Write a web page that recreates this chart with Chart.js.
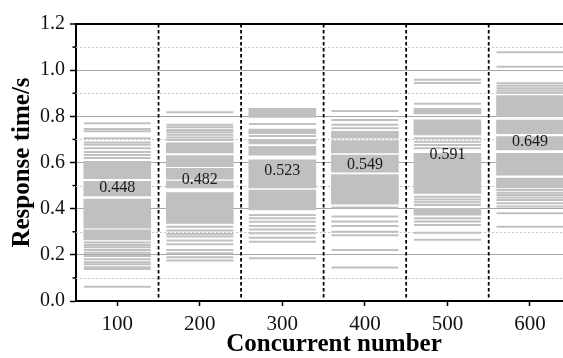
<!DOCTYPE html>
<html><head><meta charset="utf-8">
<script src="https://cdn.jsdelivr.net/npm/chart.js@4"></script>
<style>html,body{margin:0;padding:0;background:#fff;overflow:hidden}#wrap{width:563px;height:358px}</style>
</head><body><div id="wrap"><canvas id="c" width="563" height="358"></canvas></div>
<script>
// ---- data ----
const categories = [100, 200, 300, 400, 500, 600];
const means = [0.448, 0.482, 0.523, 0.549, 0.591, 0.649];
const yTicks = [0, 0.1, 0.2, 0.3, 0.4, 0.5, 0.6, 0.7, 0.8, 0.9, 1.0, 1.1, 1.2];
const xTitle = 'Concurrent number';
const yTitle = 'Response time/s';

// dense (solid-looking) ranges of response times, per concurrency level
const bands100 = [[0.530, 0.605], [0.455, 0.518], [0.315, 0.442], [0.265, 0.308]];
const bands200 = [[0.642, 0.685], [0.582, 0.630], [0.528, 0.575], [0.490, 0.520], [0.336, 0.470]];
const bands300 = [[0.795, 0.835], [0.725, 0.745], [0.680, 0.700], [0.632, 0.670], [0.490, 0.612], [0.395, 0.480]];
const bands400 = [[0.705, 0.735], [0.642, 0.695], [0.558, 0.632], [0.420, 0.548]];
const bands500 = [[0.810, 0.835], [0.720, 0.785], [0.466, 0.640], [0.372, 0.401]];
const bands600 = [[0.800, 0.890], [0.725, 0.784], [0.655, 0.712], [0.545, 0.640], [0.490, 0.532]];

// individual response times (single lines)
const lines100 = [0.770, 0.745, 0.735, 0.705, 0.687, 0.677, 0.662, 0.645, 0.632, 0.620, 0.253, 0.243, 0.233, 0.221, 0.209, 0.195, 0.181, 0.168, 0.159, 0.146, 0.139, 0.062];
const lines200 = [0.818, 0.763, 0.753, 0.741, 0.731, 0.720, 0.708, 0.697, 0.322, 0.305, 0.290, 0.279, 0.262, 0.246, 0.221, 0.207, 0.189, 0.175];
const lines300 = [0.767, 0.715, 0.373, 0.358, 0.343, 0.325, 0.310, 0.293, 0.274, 0.257, 0.185];
const lines400 = [0.823, 0.784, 0.763, 0.748, 0.405, 0.366, 0.344, 0.325, 0.300, 0.285, 0.221, 0.145];
const lines500 = [0.958, 0.944, 0.854, 0.705, 0.690, 0.676, 0.662, 0.452, 0.440, 0.428, 0.416, 0.358, 0.344, 0.329, 0.296, 0.265];
const lines600 = [1.078, 1.015, 0.943, 0.932, 0.922, 0.912, 0.902, 0.481, 0.469, 0.459, 0.448, 0.438, 0.423, 0.409, 0.380, 0.322];

const allBands = [bands100, bands200, bands300, bands400, bands500, bands600];
const allLines = [lines100, lines200, lines300, lines400, lines500, lines600];

// ---- build datasets ----
const bandData = [];
const lineData = [];
categories.forEach((c, i) => {
  allBands[i].forEach(b => bandData.push({x: c, y: b}));
  allLines[i].forEach(v => lineData.push({x: c, y: v}));
});

const GRAY = '#c0c0c0';
const isMajor = v => Math.round(v * 10) % 2 === 0;

const decor = {
  id: 'decor',
  beforeDatasetsDraw(chart) {
    const {ctx, chartArea: a, scales: {y}} = chart;
    ctx.save();
    ctx.strokeStyle = '#c4c4c4';
    ctx.lineWidth = 1;
    ctx.setLineDash([2, 2]);
    yTicks.forEach(v => {
      if (isMajor(v)) return;
      const py = Math.round(y.getPixelForValue(v)) + 0.5;
      ctx.beginPath(); ctx.moveTo(a.left, py); ctx.lineTo(a.right, py); ctx.stroke();
    });
    ctx.restore();
  },
  afterDatasetsDraw(chart) {
    const {ctx, chartArea: a, scales: {x, y}} = chart;
    ctx.save();
    // category separators
    ctx.strokeStyle = '#000';
    ctx.lineWidth = 1.8;
    ctx.setLineDash([3.5, 2.5]);
    for (let i = 0; i < categories.length - 1; i++) {
      const px = x.getPixelForValue((categories[i] + categories[i + 1]) / 2);
      ctx.beginPath(); ctx.moveTo(px, a.top); ctx.lineTo(px, a.bottom); ctx.stroke();
    }
    ctx.setLineDash([]);
    // minor ticks on y axis
    ctx.lineWidth = 1.5;
    yTicks.forEach(v => {
      if (isMajor(v)) return;
      const py = y.getPixelForValue(v);
      ctx.beginPath(); ctx.moveTo(a.left - 3.5, py); ctx.lineTo(a.left, py); ctx.stroke();
    });
    // mean labels
    ctx.fillStyle = '#1a1a1a';
    ctx.font = '16px "Liberation Serif"';
    ctx.textAlign = 'center';
    ctx.textBaseline = 'middle';
    categories.forEach((c, i) => {
      ctx.fillText(means[i].toFixed(3), x.getPixelForValue(c), y.getPixelForValue(means[i]) - 9.5);
    });
    // x axis title
    ctx.fillStyle = '#000';
    ctx.font = 'bold 25px "Liberation Serif"';
    ctx.fillText(xTitle, 334, 345);
    ctx.restore();
  }
};

new Chart(document.getElementById('c'), {
  type: 'bar',
  data: {
    datasets: [
      {type: 'scatter', data: lineData, showLine: false, pointStyle: 'line', radius: 33.5,
       borderColor: GRAY, backgroundColor: GRAY, borderWidth: 2, order: 1, clip: false},
      {type: 'bar', data: bandData, backgroundColor: GRAY, borderWidth: 0,
       barThickness: 67, grouped: false, order: 2}
    ]
  },
  options: {
    responsive: false,
    animation: false,
    events: [],
    layout: {autoPadding: false, padding: {top: 24, left: 0, right: 0, bottom: 0}},
    plugins: {legend: {display: false}, tooltip: {enabled: false}},
    scales: {
      x: {
        type: 'linear', min: 50, max: 640, offset: false,
        afterBuildTicks: s => { s.ticks = categories.map(v => ({value: v})); },
        afterFit: s => { s.height = 57; },
        grid: {offset: false, drawOnChartArea: false, drawTicks: true, tickLength: 5, tickColor: '#000', tickWidth: 1.5},
        border: {color: '#000', width: 2},
        ticks: {padding: 6, color: '#111', maxRotation: 0, autoSkip: false,
                font: {family: 'Liberation Serif', size: 21},
                callback: v => String(v)}
      },
      y: {
        type: 'linear', min: 0, max: 1.2,
        afterBuildTicks: s => { s.ticks = yTicks.map(v => ({value: v})); },
        afterFit: s => { s.width = 76; },
        grid: {
          color: c => (c.tick && Math.abs(c.tick.value - 1.2) < 1e-6) ? '#000' : (c.tick && isMajor(c.tick.value) ? '#a6a6a6' : 'rgba(0,0,0,0)'),
          lineWidth: c => (c.tick && Math.abs(c.tick.value - 1.2) < 1e-6) ? 2 : 1,
          tickColor: c => (c.tick && isMajor(c.tick.value)) ? '#000' : 'rgba(0,0,0,0)',
          tickLength: 6, tickWidth: 1.5
        },
        border: {color: '#000', width: 2},
        ticks: {padding: 5, color: '#111', font: {family: 'Liberation Serif', size: 20},
                callback: v => isMajor(v) ? v.toFixed(1) : ''},
        title: {display: true, text: yTitle, color: '#000', padding: {top: 8, bottom: 0},
                font: {family: 'Liberation Serif', size: 25, weight: 'bold'}}
      }
    }
  },
  plugins: [decor]
});
</script>
</body></html>
